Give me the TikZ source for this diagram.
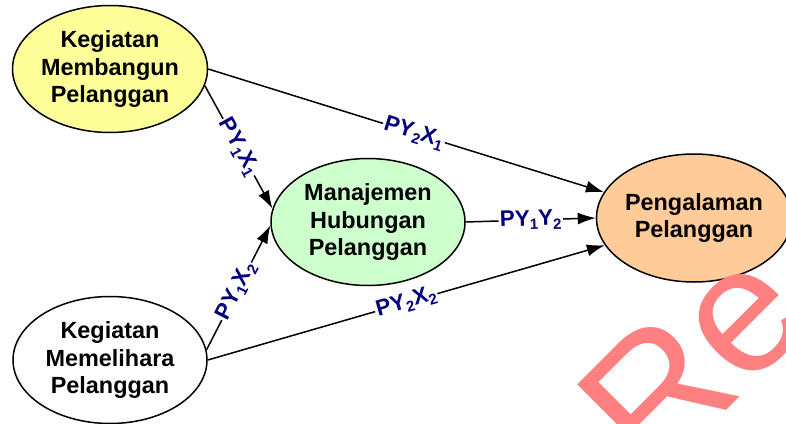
\documentclass[tikz,border=0pt]{standalone}
\usepackage{fontspec}
\setmainfont{Liberation Sans}
\usetikzlibrary{arrows.meta,shapes.geometric,positioning}
\definecolor{kuning}{HTML}{FFFF99}
\definecolor{hijau}{HTML}{CCFFCC}
\definecolor{oranye}{HTML}{FFCC99}
\definecolor{biru}{HTML}{000080}
\definecolor{merahmuda}{HTML}{FF8080}
\newcommand{\sub}[1]{\raisebox{-0.35ex}{\fontsize{15}{15}\selectfont #1}}
\tikzset{konstruk/.style={
            draw,
            ellipse,
            line width=1.5bp,
            inner sep=0pt,
            minimum width=194bp,
            minimum height=127bp,
            align=center,
            font=\fontsize{23.5}{27.5}\selectfont\bfseries
        },
        panah/.style={
            line width=1.5bp,
            -{Latex[length=18bp,width=12bp]}
        },
        koef/.style={
            font=\fontsize{22.5}{22.5}\selectfont\bfseries,
            text=biru,
            fill=white,
            inner sep=1.5bp,
            sloped
        }
    }
\begin{document}
\begin{tikzpicture}[x=1bp,y=1bp]
        \useasboundingbox (0,0) rectangle (786,423);
        \node[konstruk,fill=kuning] at (110,354) (bangun) {Kegiatan\\Membangun\\Pelanggan};
        \node[konstruk,fill=white] at (110,63) (pelihara) {Kegiatan\\Memelihara\\Pelanggan};
        \node[konstruk,fill=hijau] at (368,201) (manajemen) {Manajemen\\Hubungan\\Pelanggan};
        \node[konstruk,fill=oranye,minimum width=184bp,minimum height=128bp] at (694,205) (pengalaman) {Pengalaman\\Pelanggan};
        % jalur
        \draw[panah] (bangun.east) -- node[koef,pos=0.52] {PY\sub{2}X\sub{1}} (pengalaman.164);
        \draw[panah] (bangun.-10) -- node[koef,pos=0.5] {PY\sub{1}X\sub{1}} (manajemen.172);
        \draw[panah] (pelihara.6) -- node[koef,pos=0.47] {PY\sub{1}X\sub{2}} (manajemen.182);
        \draw[panah] (pelihara.0) -- node[koef,pos=0.5] {PY\sub{2}X\sub{2}} (pengalaman.197);
        \draw[panah] (manajemen.east) -- node[koef,pos=0.5] {PY\sub{1}Y\sub{2}} (pengalaman.west);
        % tanda air
        \begin{scope}
            \clip (0,0) rectangle (786,423);
            \node[rotate=45,anchor=base west,inner sep=0pt,text=merahmuda,font=\fontsize{180}{180}\selectfont] (tandaair) at (654,-60) {Re};
        \end{scope}
    \end{tikzpicture}
\end{document}
